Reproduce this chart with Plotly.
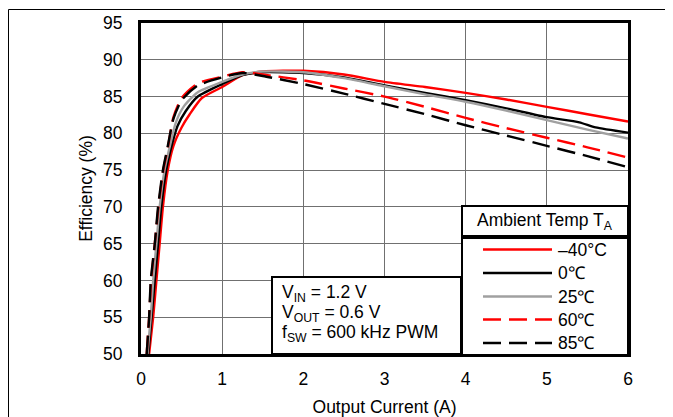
import plotly.graph_objects as go

# Output current (A) / efficiency (%) per ambient temperature
i_m40 = [0.1, 0.15, 0.19, 0.23, 0.27, 0.33, 0.4, 0.5, 0.6, 0.75, 1.0, 1.25, 1.5, 1.75, 2.0, 2.5, 3.0, 3.5, 4.0, 4.5, 5.0, 5.5, 6.0]
e_m40 = [50, 55, 60, 65, 70, 75, 78.3, 80.8, 82.6, 84.8, 86.3, 87.9, 88.4, 88.5, 88.5, 88.0, 87.0, 86.3, 85.5, 84.6, 83.6, 82.6, 81.6]

i_0 = [0.09, 0.13, 0.17, 0.21, 0.25, 0.31, 0.37, 0.45, 0.55, 0.7, 1.0, 1.25, 1.5, 2.0, 2.5, 3.0, 3.5, 4.0, 4.5, 5.0, 5.4, 5.6, 6.0]
e_0 = [50, 55, 60, 65, 70, 75, 78, 81, 83, 85, 86.7, 87.9, 88.3, 88.2, 87.6, 86.5, 85.5, 84.5, 83.4, 82.2, 81.5, 80.8, 80.1]

i_25 = [0.08, 0.12, 0.15, 0.19, 0.23, 0.29, 0.35, 0.43, 0.53, 0.7, 1.0, 1.25, 1.5, 2.0, 2.5, 3.0, 3.5, 4.0, 4.5, 5.0, 5.5, 6.0]
e_25 = [50, 55, 60, 65, 70, 75, 78, 81.5, 83.7, 85.6, 87.0, 88.0, 88.4, 88.3, 87.5, 86.4, 85.3, 84.3, 83.1, 81.8, 80.5, 79.3]

i_60 = [0.07, 0.1, 0.125, 0.17, 0.215, 0.275, 0.33, 0.4, 0.5, 0.7, 1.0, 1.25, 1.5, 2.0, 2.5, 3.0, 3.5, 4.0, 4.5, 5.0, 5.5, 6.0]
e_60 = [50, 55, 60, 65, 70, 75, 78, 82.2, 84.8, 86.8, 87.7, 88.3, 88.0, 87.2, 86.1, 85.0, 83.6, 82.1, 80.7, 79.4, 78.1, 76.7]

i_85 = [0.07, 0.1, 0.12, 0.17, 0.21, 0.27, 0.32, 0.4, 0.5, 0.7, 1.0, 1.25, 1.5, 2.0, 2.5, 3.0, 3.5, 4.0, 4.5, 5.0, 5.5, 6.0]
e_85 = [50, 55, 60, 65, 70, 75, 77.7, 82.0, 84.5, 86.5, 87.6, 88.2, 87.8, 86.7, 85.4, 84.0, 82.6, 81.1, 79.7, 78.3, 76.9, 75.4]

series_names = ["\u201340°C", "0\u2103", "25\u2103", "60\u2103", "85\u2103"]
legend_title = "Ambient Temp T<sub>A</sub>"
cond_lines = ["V<sub>IN</sub> = 1.2 V", "V<sub>OUT</sub> = 0.6 V", "f<sub>SW</sub> = 600 kHz PWM"]
x_ticks = [0, 1, 2, 3, 4, 5, 6]
y_ticks = [50, 55, 60, 65, 70, 75, 80, 85, 90, 95]

FONT = "Liberation Sans, Arial, sans-serif"
FS = 17.5
DASH = "18px,8px"

colors = ["#ff0000", "#000000", "#a0a0a0", "#ff0000", "#000000"]
dashes = ["solid", "solid", "solid", DASH, DASH]
xs_all = [i_m40, i_0, i_25, i_60, i_85]
ys_all = [e_m40, e_0, e_25, e_60, e_85]

fig = go.Figure()
for xs, ys, c, d, name in zip(xs_all, ys_all, colors, dashes, series_names):
    fig.add_trace(go.Scatter(x=xs, y=ys, mode="lines", name=name, showlegend=False,
                             line=dict(color=c, width=2.4, dash=d, shape="spline", smoothing=0.6)))

# page is offset by 8px body margin; coordinates below are page px
OFF = 8
W, H = 673 - OFF, 417 - OFF
L, R, T, B = 141 - OFF, 628 - OFF, 23 - OFF, 354 - OFF

def px(xp):
    return (xp - OFF - L) / (R - L)

def py(yp):
    return (B - (yp - OFF)) / (B - T)

fig.update_layout(
    width=W, height=H,
    margin=dict(l=L, r=W - R, t=T, b=H - B, pad=0),
    paper_bgcolor="white", plot_bgcolor="white",
    font=dict(family=FONT, size=FS, color="black"),
    showlegend=False,
    xaxis=dict(
        range=[0, 6], tickvals=x_ticks, showgrid=True, gridcolor="#707070", gridwidth=1,
        zeroline=False, showline=True, linecolor="black", linewidth=3, mirror=True,
        ticks="outside", ticklen=7, tickcolor="rgba(0,0,0,0)", automargin=False,
        title=dict(text="Output Current (A)", standoff=13, font=dict(size=FS)),
    ),
    yaxis=dict(
        range=[50, 95], tickvals=y_ticks, showgrid=True, gridcolor="#707070", gridwidth=1,
        zeroline=False, showline=True, linecolor="black", linewidth=3, mirror=True,
        ticks="outside", ticklen=12, tickcolor="rgba(0,0,0,0)", automargin=False,
        title=dict(text="Efficiency (%)", standoff=6, font=dict(size=FS)),
    ),
)

# outer frame (partially cropped)
fig.add_shape(type="rect", xref="paper", yref="paper",
              x0=px(8.5), x1=px(700), y0=py(450), y1=py(9.5),
              line=dict(color="black", width=1), layer="below")

# conditions box
fig.add_shape(type="rect", xref="paper", yref="paper",
              x0=px(272), x1=px(461), y0=py(354), y1=py(277),
              line=dict(color="black", width=2), fillcolor="white", layer="above")
for txt, yc in zip(cond_lines, [293, 313, 333]):
    fig.add_annotation(xref="paper", yref="paper", x=px(280), y=py(yc),
                       xanchor="left", yanchor="middle", text=txt, showarrow=False,
                       align="left", font=dict(family=FONT, size=FS, color="black"))

# legend: title box + entries box
fig.add_shape(type="rect", xref="paper", yref="paper",
              x0=px(462), x1=px(628), y0=py(236), y1=py(206),
              line=dict(color="black", width=2), fillcolor="white", layer="above")
fig.add_shape(type="rect", xref="paper", yref="paper",
              x0=px(462), x1=px(628), y0=py(355), y1=py(238),
              line=dict(color="black", width=2), fillcolor="white", layer="above")
fig.add_annotation(xref="paper", yref="paper", x=px(545), y=py(221),
                   xanchor="center", yanchor="middle", text=legend_title, showarrow=False,
                   font=dict(family=FONT, size=FS, color="black"))
rows = [249.5, 273, 296.5, 319.5, 343]
for name, c, d, yr in zip(series_names, colors, dashes, rows):
    fig.add_shape(type="line", xref="paper", yref="paper",
                  x0=px(483), x1=px(552), y0=py(yr), y1=py(yr),
                  line=dict(color=c, width=2.4, dash=d), layer="above")
    fig.add_annotation(xref="paper", yref="paper", x=px(556), y=py(yr),
                       xanchor="left", yanchor="middle", text=name, showarrow=False,
                       font=dict(family=FONT, size=FS, color="black"))

fig.write_html("out.html")
